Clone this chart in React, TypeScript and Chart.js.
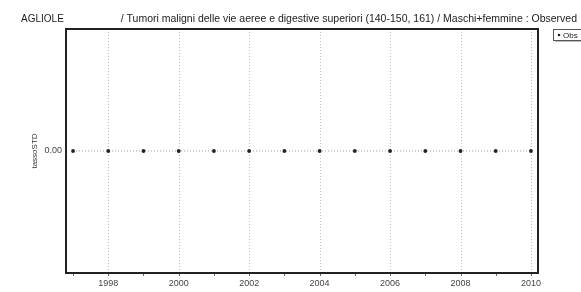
import React, { useEffect, useRef } from "react";
import { Chart, registerables } from "chart.js";

Chart.register(...registerables);

const years = [1997, 1998, 1999, 2000, 2001, 2002, 2003, 2004, 2005, 2006, 2007, 2008, 2009, 2010];
const observed = [0, 0, 0, 0, 0, 0, 0, 0, 0, 0, 0, 0, 0, 0];
const xTickYears = [1998, 2000, 2002, 2004, 2006, 2008, 2010];
const placeName = "AGLIOLE";
const titleText = "/ Tumori maligni delle vie aeree e digestive superiori (140-150, 161) / Maschi+femmine : Observed";
const yAxisTitle = "tassoSTD";
const legendLabel = "Obs";

const FONT = "'Liberation Sans', Arial, sans-serif";

const decorPlugin = {
  id: "decor",
  beforeDatasetsDraw(chart: any) {
    const { ctx, chartArea } = chart;
    const xs = chart.scales.x;
    ctx.save();
    ctx.strokeStyle = "#c4c4c4";
    ctx.lineWidth = 1;
    ctx.setLineDash([1, 2]);
    for (const yr of xTickYears) {
      const px = Math.round(xs.getPixelForValue(yr)) + 0.5;
      ctx.beginPath();
      ctx.moveTo(px, chartArea.top);
      ctx.lineTo(px, chartArea.bottom);
      ctx.stroke();
    }
    ctx.restore();
  },
  afterDraw(chart: any) {
    const { ctx, chartArea } = chart;
    const xs = chart.scales.x;
    ctx.save();
    // frame
    ctx.strokeStyle = "#222";
    ctx.lineWidth = 2;
    ctx.setLineDash([]);
    ctx.strokeRect(chartArea.left, chartArea.top, chartArea.right - chartArea.left, chartArea.bottom - chartArea.top);
    // ticks under axis
    ctx.lineWidth = 1;
    ctx.strokeStyle = "#666";
    for (const yr of years) {
      const px = Math.round(xs.getPixelForValue(yr)) + 0.5;
      ctx.beginPath();
      ctx.moveTo(px, chartArea.bottom + 1);
      ctx.lineTo(px, chartArea.bottom + 3);
      ctx.stroke();
    }
    // titles
    ctx.fillStyle = "#222";
    ctx.textBaseline = "middle";
    ctx.font = `10px ${FONT}`;
    ctx.textAlign = "left";
    ctx.fillText(placeName, 21, 19);
    ctx.font = `10.5px ${FONT}`;
    ctx.textAlign = "right";
    ctx.fillText(titleText, 577, 19);
    // y axis title
    ctx.save();
    ctx.translate(35, 151);
    ctx.rotate(-Math.PI / 2);
    ctx.textAlign = "center";
    ctx.font = `8px ${FONT}`;
    ctx.fillStyle = "#333";
    ctx.fillText(yAxisTitle, 0, 0);
    ctx.restore();
    // legend
    ctx.fillStyle = "#bbb";
    ctx.fillRect(555, 31, 40, 11);
    ctx.fillStyle = "#fff";
    ctx.fillRect(553.5, 29.5, 40, 11);
    ctx.strokeStyle = "#555";
    ctx.lineWidth = 1;
    ctx.strokeRect(553.5, 29.5, 40, 11);
    ctx.fillStyle = "#222";
    ctx.beginPath();
    ctx.arc(559, 35, 1.3, 0, Math.PI * 2);
    ctx.fill();
    ctx.font = `8px ${FONT}`;
    ctx.textAlign = "left";
    ctx.fillText(legendLabel, 563, 35.5);
    ctx.restore();
  },
};

export default function App() {
  const ref = useRef<HTMLCanvasElement>(null);
  useEffect(() => {
    document.body.style.margin = "0";
    const chart = new Chart(ref.current!, {
      type: "line",
      data: {
        datasets: [
          {
            label: legendLabel,
            data: years.map((y, i) => ({ x: y, y: observed[i] })),
            borderColor: "#999",
            borderWidth: 1,
            borderDash: [1, 2],
            pointRadius: 1.9,
            pointBackgroundColor: "#222",
            pointBorderColor: "#222",
            pointBorderWidth: 0,
          },
        ],
      },
      options: {
        animation: false,
        responsive: false,
        layout: { padding: { left: 0, top: 29, right: 43, bottom: 0 } },
        plugins: { legend: { display: false }, tooltip: { enabled: false }, title: { display: false } },
        scales: {
          x: {
            type: "linear",
            min: 1996.8,
            max: 2010.2,
            grid: { display: false, drawTicks: false },
            border: { display: false },
            afterBuildTicks: (s: any) => {
              s.ticks = xTickYears.map((v) => ({ value: v }));
            },
            afterFit: (s: any) => {
              s.height = 19;
            },
            ticks: {
              color: "#444",
              font: { family: FONT, size: 9 },
              padding: 5,
              maxRotation: 0,
              autoSkip: false,
              callback: (v: any) => String(v),
            },
          },
          y: {
            min: -1,
            max: 1,
            grid: { display: false, drawTicks: false },
            border: { display: false },
            afterBuildTicks: (s: any) => {
              s.ticks = [{ value: 0 }];
            },
            afterFit: (s: any) => {
              s.width = 66;
            },
            ticks: {
              color: "#444",
              font: { family: FONT, size: 9 },
              padding: 4,
              callback: (v: any) => Number(v).toFixed(2),
            },
          },
        },
      },
      plugins: [decorPlugin],
    } as any);
    return () => chart.destroy();
  }, []);
  return (
    <div style={{ position: "absolute", left: 0, top: 0, width: 581, height: 292 }}>
      <canvas ref={ref} width={581} height={292} style={{ width: 581, height: 292, display: "block" }} />
    </div>
  );
}
